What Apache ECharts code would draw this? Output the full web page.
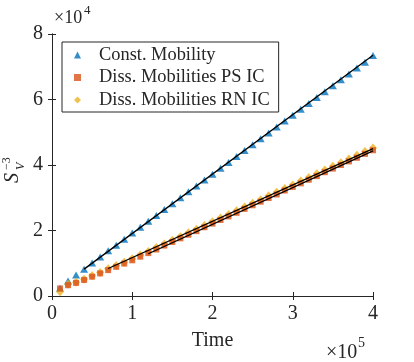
<!DOCTYPE html>
<html>
<head>
    <title>S_V^-3 vs Time</title>
    <script src="https://cdn.jsdelivr.net/npm/echarts@6.0.0/dist/echarts.min.js"></script>
    <style>
        body { margin: 0; background: #fff; }
        #chart { width: 414px; height: 362px; }
    </style>
</head>
<body>
    <div id="chart"></div>

    <script>
        // time samples (x1e4 steps)
        const times = [];
        for (let i = 1; i <= 40; i++) times.push(i * 10000);

        // values in units of 1e3
        const constMob = [2.4, 4.6, 6.4, 8.2, 10.1, 11.9, 13.8, 15.5, 17.3, 19.2,
            21.0, 22.8, 24.6, 26.4, 28.2, 30.0, 31.8, 33.6, 35.4, 37.2,
            39.0, 40.8, 42.6, 44.4, 46.2, 48.0, 49.8, 51.6, 53.4, 55.2,
            57.0, 58.8, 60.6, 62.4, 64.2, 66.0, 67.8, 69.6, 71.4, 73.4];
        const dissPS = [2.3, 3.3, 4.0, 4.9, 5.9, 6.9, 7.9, 8.9, 9.9, 10.9,
            12.0, 13.1, 14.2, 15.4, 16.5, 17.6, 18.7, 19.8, 21.0, 22.1,
            23.2, 24.3, 25.4, 26.6, 27.7, 28.8, 29.9, 31.0, 32.2, 33.3,
            34.4, 35.5, 36.6, 37.8, 38.9, 40.0, 41.1, 42.2, 43.4, 44.5];
        const dissRN = [1.3, 3.6, 4.2, 5.1, 6.2, 7.2, 8.3, 9.3, 10.3, 11.4,
            12.5, 13.6, 14.8, 15.9, 17.0, 18.1, 19.3, 20.4, 21.5, 22.7,
            23.8, 24.9, 26.0, 27.2, 28.3, 29.4, 30.6, 31.7, 32.8, 33.9,
            35.1, 36.2, 37.3, 38.5, 39.6, 40.7, 41.8, 43.0, 44.1, 45.2];

        // linear fit segments [t, value(1e3)]
        const fitConst = [[40000, 8.2], [400000, 73.5]];
        const fitRN = [[70000, 8.4], [400000, 45.0]];
        const fitPS = [[120000, 12.9], [400000, 44.3]];

        const xTicks = ['0', '1', '2', '3', '4'];
        const yTicks = ['0', '2', '4', '6', '8'];
        const names = ['Const. Mobility', 'Diss. Mobilities PS IC', 'Diss. Mobilities RN IC'];

        const pair = (arr) => arr.map((v, i) => [times[i], v * 1000]);
        const fit = (arr) => arr.map(p => [p[0], p[1] * 1000]);

        const serif = 'Liberation Serif';
        const axisColor = '#262626';

        const chart = echarts.init(document.getElementById('chart'));

        const baseX = {
            type: 'value', min: 0, max: 400000, interval: 100000,
            axisLine: { show: true, lineStyle: { color: axisColor, width: 1 } },
            axisTick: { inside: true, length: 4, lineStyle: { color: axisColor } },
            splitLine: { show: false }
        };
        const baseY = {
            type: 'value', min: 0, max: 80000, interval: 20000,
            axisLine: { show: true, lineStyle: { color: axisColor, width: 1 } },
            axisTick: { inside: true, length: 4, lineStyle: { color: axisColor } },
            splitLine: { show: false }
        };

        chart.setOption({
            animation: false,
            grid: { left: 52, right: 41, top: 34, bottom: 66 },
            xAxis: [
                Object.assign({}, baseX, {
                    position: 'bottom',
                    name: 'Time', nameLocation: 'middle', nameGap: 35,
                    nameTextStyle: { fontFamily: serif, fontSize: 20, color: axisColor },
                    axisLabel: {
                        margin: 8, fontFamily: serif, fontSize: 20, color: axisColor,
                        formatter: v => xTicks[Math.round(v / 100000)]
                    }
                }),
                Object.assign({}, baseX, { position: 'top', axisLabel: { show: false } })
            ],
            yAxis: [
                Object.assign({}, baseY, {
                    position: 'left',
                    axisLabel: {
                        margin: 9, fontFamily: serif, fontSize: 20, color: axisColor,
                        formatter: v => yTicks[Math.round(v / 20000)]
                    }
                }),
                Object.assign({}, baseY, { position: 'right', axisLabel: { show: false } })
            ],
            legend: {
                data: names,
                orient: 'vertical',
                left: 62, top: 42,
                padding: [4, 9, 3, 12],
                borderColor: axisColor, borderWidth: 1,
                backgroundColor: '#fff',
                itemWidth: 7, itemHeight: 7, itemGap: 4.5,
                textStyle: { fontFamily: serif, fontSize: 18.4, color: axisColor, padding: [0, 0, 0, 13], lineHeight: 18 }
            },
            graphic: [
                { type: 'text', left: 54, top: 9, style: { text: '×10', font: '18px "Liberation Serif"', fill: axisColor } },
                { type: 'text', left: 84, top: 4, style: { text: '4', font: '13px "Liberation Serif"', fill: axisColor } },
                { type: 'text', left: 326, top: 343, style: { text: '×10', font: '20px "Liberation Serif"', fill: axisColor } },
                { type: 'text', left: 358, top: 336, style: { text: '5', font: '14px "Liberation Serif"', fill: axisColor } },
                {
                    type: 'group', x: 3, y: 183, rotation: Math.PI / 2,
                    children: [
                        { type: 'text', x: 0, y: 0, style: { text: 'S', font: 'italic 20px "Liberation Serif"', fill: axisColor } },
                        { type: 'text', x: 13, y: 12, style: { text: 'V', font: 'italic 12px "Liberation Serif"', fill: axisColor } },
                        { type: 'text', x: 13, y: -2, style: { text: '−3', font: '12px "Liberation Serif"', fill: axisColor } }
                    ]
                }
            ],
            series: [
                {
                    name: names[0], type: 'scatter', symbol: 'triangle', symbolSize: [8, 7],
                    itemStyle: { color: '#0072BD' }, data: pair(constMob), z: 1
                },
                {
                    name: names[2], type: 'scatter', symbol: 'diamond', symbolSize: [8, 9],
                    itemStyle: { color: '#EDB120' }, data: pair(dissRN), z: 2
                },
                {
                    name: names[1], type: 'scatter', symbol: 'rect', symbolSize: 6,
                    itemStyle: { color: '#D95319' }, data: pair(dissPS), z: 3
                },
                {
                    type: 'line', data: fit(fitConst), showSymbol: false, silent: true,
                    lineStyle: { color: '#000', width: 1.3 }, z: 4
                },
                {
                    type: 'line', data: fit(fitRN), showSymbol: false, silent: true,
                    lineStyle: { color: '#000', width: 1.3 }, z: 4
                },
                {
                    type: 'line', data: fit(fitPS), showSymbol: false, silent: true,
                    lineStyle: { color: '#000', width: 1.3 }, z: 4
                }
            ]
        });
    </script>
</body>
</html>
